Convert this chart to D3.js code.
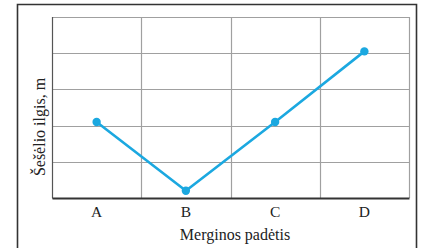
<!DOCTYPE html>
<html>
<head>
<meta charset="utf-8">
<script src="https://cdn.jsdelivr.net/npm/d3@7"></script>
<style>
  body { margin: 0; background: #fff; }
</style>
</head>
<body>
<div id="chart"></div>
<script>
// data
var categories = ["A", "B", "C", "D"];
var shadowLength = [2.1, 0.2, 2.1, 4.05];
var yTicks = [0, 1, 2, 3, 4, 5];

var width = 425, height = 248;
var margin = {left: 52, right: 16, top: 17, bottom: 50};
var serif = "'Liberation Serif', 'DejaVu Serif', serif";

var svg = d3.select("#chart").append("svg")
	.attr("width", width)
	.attr("height", height);

// outer frame (bottom edge runs off the picture)
svg.append("path")
	.attr("d", "M17.5," + height + "V4.5H416.5V" + height)
	.attr("fill", "none")
	.attr("stroke", "#333")
	.attr("stroke-width", 1.6);

var x = d3.scaleBand()
	.domain(categories)
	.range([margin.left, width - margin.right])
	.padding(0);

var y = d3.scaleLinear()
	.domain([0, 5])
	.range([height - margin.bottom, margin.top]);

var g = svg.append("g");

// grid
g.selectAll(".hgrid").data(yTicks).enter().append("line")
	.attr("x1", margin.left).attr("x2", width - margin.right)
	.attr("y1", function(d) { return Math.round(y(d)) + 0.5; })
	.attr("y2", function(d) { return Math.round(y(d)) + 0.5; })
	.attr("stroke", "#a0a0a0").attr("stroke-width", 1.2);

var vLines = categories.map(function(c) { return x(c); }).concat([width - margin.right]);
g.selectAll(".vgrid").data(vLines).enter().append("line")
	.attr("x1", function(d) { return Math.round(d) + 0.5; })
	.attr("x2", function(d) { return Math.round(d) + 0.5; })
	.attr("y1", margin.top).attr("y2", height - margin.bottom)
	.attr("stroke", function(d, i) { return i == 0 ? "#555" : "#a0a0a0"; })
	.attr("stroke-width", 1.2);

// x axis
var xAxis = g.append("g")
	.attr("transform", "translate(0," + (height - margin.bottom) + ")")
	.call(d3.axisBottom(x).tickSize(0).tickPadding(8));
xAxis.attr("font-family", null).attr("font-size", null);
xAxis.select(".domain").attr("stroke", "#333").attr("stroke-width", 2);
xAxis.selectAll("text")
	.style("font-family", serif)
	.style("font-size", "15.5px")
	.attr("fill", "#222");

// line + points
var line = d3.line()
	.x(function(d, i) { return x(categories[i]) + x.bandwidth() / 2; })
	.y(function(d) { return y(d); });

g.append("path")
	.datum(shadowLength)
	.attr("d", line)
	.attr("fill", "none")
	.attr("stroke", "#1ba8e0")
	.attr("stroke-width", 2.6)
	.attr("stroke-linejoin", "round");

g.selectAll(".dot").data(shadowLength).enter().append("circle")
	.attr("cx", function(d, i) { return x(categories[i]) + x.bandwidth() / 2; })
	.attr("cy", function(d) { return y(d); })
	.attr("r", 4.2)
	.attr("fill", "#1ba8e0");

// titles
svg.append("text")
	.attr("x", 235)
	.attr("y", 240)
	.attr("text-anchor", "middle")
	.style("font-family", serif)
	.style("font-size", "16px")
	.attr("fill", "#222")
	.text("Merginos padėtis");

svg.append("text")
	.attr("transform", "translate(45,127) rotate(-90)")
	.attr("text-anchor", "middle")
	.style("font-family", serif)
	.style("font-size", "16px")
	.attr("fill", "#222")
	.text("Šešėlio ilgis, m");
</script>
</body>
</html>
